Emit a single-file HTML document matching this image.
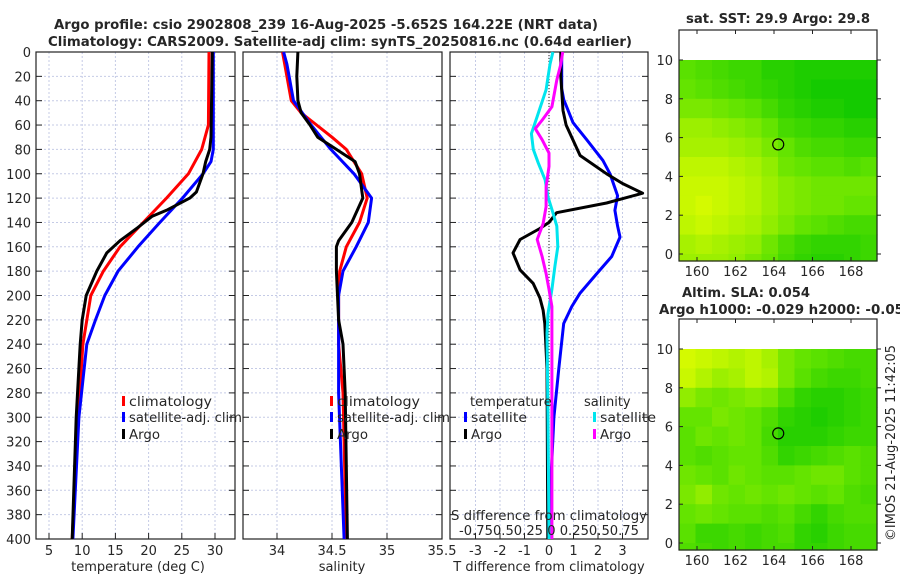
<!DOCTYPE html>
<html><head><meta charset="utf-8"><style>
html,body{margin:0;padding:0;background:#fff;}
svg{display:block;font-family:"DejaVu Sans","Liberation Sans",sans-serif;}
text{fill:#262626;}
</style></head><body>
<svg id="chart" width="900" height="580" viewBox="0 0 900 580" xmlns="http://www.w3.org/2000/svg">
<g id="titles">
<text x="326" y="29" text-anchor="middle" font-weight="bold" font-size="13" textLength="544" lengthAdjust="spacingAndGlyphs">Argo profile: csio 2902808_239 16-Aug-2025 -5.652S 164.22E (NRT data)</text>
<text x="340" y="46" text-anchor="middle" font-weight="bold" font-size="13" textLength="584" lengthAdjust="spacingAndGlyphs">Climatology: CARS2009. Satellite-adj clim: synTS_20250816.nc (0.64d earlier)</text>
<text x="778" y="23" text-anchor="middle" font-weight="bold" font-size="13" textLength="184" lengthAdjust="spacingAndGlyphs">sat. SST: 29.9 Argo: 29.8</text>
<text x="746" y="297" text-anchor="middle" font-weight="bold" font-size="13" textLength="128" lengthAdjust="spacingAndGlyphs">Altim. SLA: 0.054</text>
<text x="659" y="314" font-weight="bold" font-size="13" textLength="245" lengthAdjust="spacingAndGlyphs">Argo h1000: -0.029 h2000: -0.05</text>
<text transform="translate(895,443) rotate(-90)" text-anchor="middle" font-size="13" textLength="196" lengthAdjust="spacingAndGlyphs">©IMOS 21-Aug-2025 11:42:05</text>
</g>
<g id="plots"></g>
</svg>
<script>
// ---------- data ----------
const depthTicks = [0,20,40,60,80,100,120,140,160,180,200,220,240,260,280,300,320,340,360,380,400];
const tempTickLabels = [5,10,15,20,25,30];
const salTickLabels = [34,34.5,35,35.5];
const tdiffTickLabels = [-3,-2,-1,0,1,2,3];

const tClimDepth = [0,60,80,100,120,140,160,180,200,240,300,400];
const tClimVal   = [29.1,29.0,28.0,26.0,22.7,19.2,15.7,13.2,11.3,10.1,9.4,8.5];
const tSatDepth  = [0,80,90,100,120,140,160,180,200,220,240,300,400];
const tSatVal    = [29.75,29.75,29.4,28.2,25.1,21.7,18.4,15.4,13.4,12.0,10.7,9.5,8.6];
const tArgoDepth = [0,70,80,90,100,115,120,130,135,145,155,165,180,200,220,240,300,400];
const tArgoVal   = [29.6,29.4,29.2,28.6,28.2,27.2,26.2,22.7,20.5,18.2,15.7,13.7,12.2,10.6,10.0,9.7,9.1,8.5];

const sClimDepth = [0,20,40,50,60,70,80,100,120,140,160,180,200,240,280,400];
const sClimVal   = [34.05,34.09,34.13,34.22,34.36,34.50,34.63,34.77,34.82,34.75,34.63,34.57,34.56,34.56,34.60,34.63];
const sSatDepth  = [0,10,20,40,60,80,100,120,140,160,180,200,240,280,400];
const sSatVal    = [34.06,34.09,34.11,34.15,34.31,34.49,34.70,34.86,34.83,34.72,34.60,34.56,34.56,34.56,34.61];
const sArgoDepth = [0,20,40,50,60,70,80,90,100,120,140,155,160,180,220,240,260,280,400];
const sArgoVal   = [34.19,34.18,34.19,34.22,34.30,34.37,34.54,34.71,34.75,34.78,34.68,34.56,34.54,34.54,34.56,34.60,34.61,34.62,34.64];

const dtArgoDepth = [0,20,48,60,85,100,108,116,124,132,140,145,154,165,179,190,202,212,223,260,400];
const dtArgoVal   = [0.48,0.48,0.57,0.7,1.27,2.35,3.0,3.82,2.35,0.31,0.0,-0.37,-1.18,-1.47,-1.18,-0.65,-0.37,-0.24,-0.17,-0.08,-0.05];
const dtSatDepth  = [0,30,39,58,72,89,100,118,130,143,152,168,182,198,209,223,260,300,350,400];
const dtSatVal    = [0.52,0.52,0.6,0.98,1.54,2.2,2.49,2.8,2.69,2.8,2.9,2.56,1.95,1.27,0.93,0.6,0.4,0.2,0.08,0.03];
const dsSatDepth  = [0,10,31,53,67,80,91,105,119,132,143,160,176,195,215,231,300,400];
const dsSatVal    = [0.04,0.01,-0.03,-0.12,-0.18,-0.16,-0.11,-0.04,-0.01,0.04,0.08,0.09,0.06,0.03,-0.01,-0.02,-0.01,0.0];
const dsArgoDepth = [0,10,23,45,56,63,72,83,94,111,127,141,154,168,182,195,209,231,400];
const dsArgoVal   = [0.14,0.12,0.08,0.03,-0.07,-0.14,-0.07,0.0,0.0,-0.03,-0.03,-0.06,-0.12,-0.07,-0.03,0.0,0.03,0.03,0.03];

const mapLonTicks = [160,162,164,166,168];
const mapLatTicks = [0,2,4,6,8,10];
const sstGrid = [
[.45,.4,.35,.3,.3,.2,.2,.15,.15,.15,.15,.15],
[.5,.45,.4,.35,.3,.25,.2,.15,.1,.1,.1,.1],
[.6,.6,.55,.5,.45,.35,.25,.2,.15,.15,.1,.1],
[.75,.75,.7,.65,.6,.5,.35,.3,.25,.25,.2,.2],
[.8,.8,.8,.75,.7,.6,.5,.4,.35,.35,.3,.3],
[.9,.9,.9,.85,.8,.7,.55,.5,.45,.45,.4,.45],
[.95,.95,.95,.9,.85,.75,.65,.6,.55,.55,.55,.55],
[.95,1,.95,.9,.85,.75,.65,.6,.55,.55,.5,.5],
[.9,.95,.9,.85,.8,.7,.6,.5,.45,.4,.35,.35],
[.8,.85,.8,.75,.7,.55,.4,.3,.25,.25,.25,.3],
[.75,.75,.75,.7,.6,.5,.35,.25,.2,.2,.25,.3]];
const slaGrid = [
[1,.95,.9,.85,.9,.8,.6,.5,.45,.4,.35,.35],
[.95,.85,.75,.8,.9,.85,.6,.45,.35,.3,.3,.35],
[.7,.6,.55,.6,.65,.6,.4,.25,.2,.2,.25,.3],
[.5,.5,.6,.55,.5,.4,.25,.2,.15,.2,.25,.3],
[.45,.55,.5,.55,.5,.35,.2,.2,.2,.25,.3,.3],
[.45,.4,.45,.5,.5,.4,.25,.3,.35,.4,.45,.4],
[.55,.5,.45,.55,.5,.45,.45,.5,.55,.55,.45,.4],
[.6,.7,.55,.5,.55,.5,.55,.5,.45,.5,.4,.35],
[.5,.55,.5,.45,.45,.4,.45,.35,.25,.35,.4,.4],
[.45,.3,.3,.35,.3,.35,.4,.25,.2,.3,.35,.35],
[.4,.35,.3,.35,.3,.35,.35,.25,.25,.3,.35,.35]];
const argoLon = 164.22, argoLat = 5.65;

// ---------- helpers ----------
const NS='http://www.w3.org/2000/svg';
const root=document.getElementById('plots');
function mk(tag,attrs,parent){const e=document.createElementNS(NS,tag);for(const k in attrs)e.setAttribute(k,attrs[k]);(parent||root).appendChild(e);return e;}
const Y0=52, Y1=539;
const yD = d => Y0 + d*(Y1-Y0)/400;

function panel(name,x0,x1,xScale,xTicks,gridVals,showDepth){
  const g=mk('g',{});
  
  
  mk('rect',{x:x0,y:Y0,width:x1-x0,height:Y1-Y0,fill:'#fff'},g);
  gridVals.forEach(v=>{const gl=mk('line',{x1:xScale(v),x2:xScale(v),y1:Y0,y2:Y1,stroke:'#c5cbe6','stroke-width':1,'stroke-dasharray':'2,2'},g);
    
    });
  depthTicks.forEach(d=>{
    if(d>0&&d<400){const gl=mk('line',{x1:x0,x2:x1,y1:yD(d),y2:yD(d),stroke:'#c5cbe6','stroke-width':1,'stroke-dasharray':'2,2'},g);
      
      }
    mk('line',{x1:x0,x2:x0+6,y1:yD(d),y2:yD(d),stroke:'#222'},g);
    mk('line',{x1:x1-6,x2:x1,y1:yD(d),y2:yD(d),stroke:'#222'},g);
    if(showDepth){const t=mk('text',{x:x0-5,y:yD(d)+5,'text-anchor':'end','font-size':13},g);t.textContent=d;
      
      }
  });
  xTicks.forEach(v=>{mk('line',{x1:xScale(v),x2:xScale(v),y1:Y1,y2:Y1-6,stroke:'#222'},g);
    const t=mk('text',{x:xScale(v),y:Y1+16,'text-anchor':'middle','font-size':13},g);t.textContent=v;
    
    });
  const fr=mk('rect',{x:x0,y:Y0,width:x1-x0,height:Y1-Y0,fill:'none',stroke:'#222','stroke-width':1.2},g);
  
  
  return g;
}
function series(g,name,depths,vals,xScale,color){
  const pts=depths.map((d,i)=>xScale(vals[i]).toFixed(1)+','+yD(d).toFixed(1)).join(' ');
  const p=mk('polyline',{points:pts,fill:'none',stroke:color,'stroke-width':3,'stroke-linejoin':'round'},g);
  
  
}
function legend(g,name,x,y,color,label,len){
  const e=mk('g',{},g);
  
  
  mk('rect',{x:x,y:y-10,width:3,height:10,fill:color},e);
  const t=mk('text',{x:x+7,y:y,'font-size':13},e);t.textContent=label;
  if(len){t.setAttribute('textLength',len);t.setAttribute('lengthAdjust','spacingAndGlyphs');}
}
function axisLabel(text,x,name){const t=mk('text',{x:x,y:571,'text-anchor':'middle','font-size':13});t.textContent=text;
  
  }

// ---------- panel 1: temperature ----------
const xT = v => 49 + (v-5)*6.64;
const g1=panel('temperature',36,235,xT,tempTickLabels,tempTickLabels,true);
series(g1,'temp-climatology-line',tClimDepth,tClimVal,xT,'#ff0000');
series(g1,'temp-satellite-line',tSatDepth,tSatVal,xT,'#0000ff');
series(g1,'temp-argo-line',tArgoDepth,tArgoVal,xT,'#000000');
legend(g1,'legend-climatology',122,406,'#ff0000','climatology',83);
legend(g1,'legend-satellite-adj',122,422,'#0000ff','satellite-adj. clim',113);
legend(g1,'legend-argo',122,439,'#000000','Argo',31);
axisLabel('temperature (deg C)',138,'temperature-axis-title');

// ---------- panel 2: salinity ----------
const xS = v => 277 + (v-34)*110;
const g2=panel('salinity',243,442,xS,salTickLabels,[34,34.5,35],false);
series(g2,'sal-climatology-line',sClimDepth,sClimVal,xS,'#ff0000');
series(g2,'sal-satellite-line',sSatDepth,sSatVal,xS,'#0000ff');
series(g2,'sal-argo-line',sArgoDepth,sArgoVal,xS,'#000000');
legend(g2,'legend-climatology',330,406,'#ff0000','climatology',83);
legend(g2,'legend-satellite-adj',330,422,'#0000ff','satellite-adj. clim',113);
legend(g2,'legend-argo',330,439,'#000000','Argo',31);
axisLabel('salinity',342,'salinity-axis-title');

// ---------- panel 3: differences ----------
const xDT = v => 549 + v*24.5;
const xDS = v => 549 + v*98;
const g3=panel('difference',450,648,xDT,tdiffTickLabels,[-3,-2,-1,0,1,2,3],false);
mk('line',{x1:549,x2:549,y1:Y0,y2:Y1,stroke:'#444','stroke-width':1.2,'stroke-dasharray':'1,2'},g3);
series(g3,'tdiff-satellite-line',dtSatDepth,dtSatVal,xDT,'#0000ff');
series(g3,'tdiff-argo-line',dtArgoDepth,dtArgoVal,xDT,'#000000');
series(g3,'sdiff-satellite-line',dsSatDepth,dsSatVal,xDS,'#00e5ee');
series(g3,'sdiff-argo-line',dsArgoDepth,dsArgoVal,xDS,'#ff00ff');
{const t=mk('text',{x:470,y:406,'font-size':13},g3);t.textContent='temperature';}
{const t=mk('text',{x:584,y:406,'font-size':13},g3);t.textContent='salinity';}
legend(g3,'legend-t-satellite',464,422,'#0000ff','satellite',56);
legend(g3,'legend-t-argo',464,439,'#000000','Argo',31);
legend(g3,'legend-s-satellite',593,422,'#00e5ee','satellite',56);
legend(g3,'legend-s-argo',593,439,'#ff00ff','Argo',31);
{const t=mk('text',{x:549,y:520,'text-anchor':'middle','font-size':13,textLength:196,lengthAdjust:'spacingAndGlyphs'},g3);t.textContent='S difference from climatology';}
{const t=mk('text',{x:549,y:535,'text-anchor':'middle','font-size':13,textLength:180,lengthAdjust:'spacingAndGlyphs'},g3);t.textContent='-0.750.50.25 0  0.250.50.75';}
axisLabel('T difference from climatology',549,'t-diff-axis-title');

// ---------- maps ----------
function cmap(v){
  const a=[0,195,0],b=[100,228,0],c=[212,250,0];
  let p,q,t; if(v<0.5){p=a;q=b;t=v/0.5;}else{p=b;q=c;t=(v-0.5)/0.5;}
  return 'rgb('+p.map((x,i)=>Math.round(x+(q[i]-x)*t)).join(',')+')';
}
function drawMap(name,grid,frameTop){
  const dataTop=frameTop+30, L=679, R=877, bottom=frameTop+231;
  const xL = lon => 697 + (lon-160)*19.25;
  const yL = lat => dataTop + (10-lat)*19.4;
  const g=mk('g',{});
  
  
  const cw=(R-L)/grid[0].length;
  grid.forEach((row,r)=>row.forEach((v,c)=>{
    const y=yL(10-r), h=Math.min(19.4, bottom-y);
    const cell=mk('rect',{x:(L+c*cw).toFixed(2),y:y.toFixed(2),width:(cw+0.6).toFixed(2),height:(h+0.6).toFixed(2),fill:cmap(v)},g);
    
    
  }));
  const dot=mk('circle',{cx:xL(argoLon),cy:yL(argoLat),r:5.5,fill:'none',stroke:'#000','stroke-width':1.2},g);
  
  
  mk('rect',{x:L,y:frameTop,width:R-L,height:bottom-frameTop,fill:'none',stroke:'#222','stroke-width':1.2},g);
  mapLonTicks.forEach(lon=>{mk('line',{x1:xL(lon),x2:xL(lon),y1:bottom,y2:bottom-4,stroke:'#222'},g);
    mk('line',{x1:xL(lon),x2:xL(lon),y1:frameTop,y2:frameTop+4,stroke:'#222'},g);
    const t=mk('text',{x:xL(lon),y:bottom+15,'text-anchor':'middle','font-size':13},g);t.textContent=lon;
    
    });
  mapLatTicks.forEach(lat=>{mk('line',{x1:L,x2:L+4,y1:yL(lat),y2:yL(lat),stroke:'#222'},g);
    mk('line',{x1:R,x2:R+4,y1:yL(lat),y2:yL(lat),stroke:'#222'},g);
    const t=mk('text',{x:L-6,y:yL(lat)+5,'text-anchor':'end','font-size':13},g);t.textContent=lat;
    
    });
}
drawMap('sst-map',sstGrid,30);
drawMap('sla-map',slaGrid,319);
</script>
</body></html>
